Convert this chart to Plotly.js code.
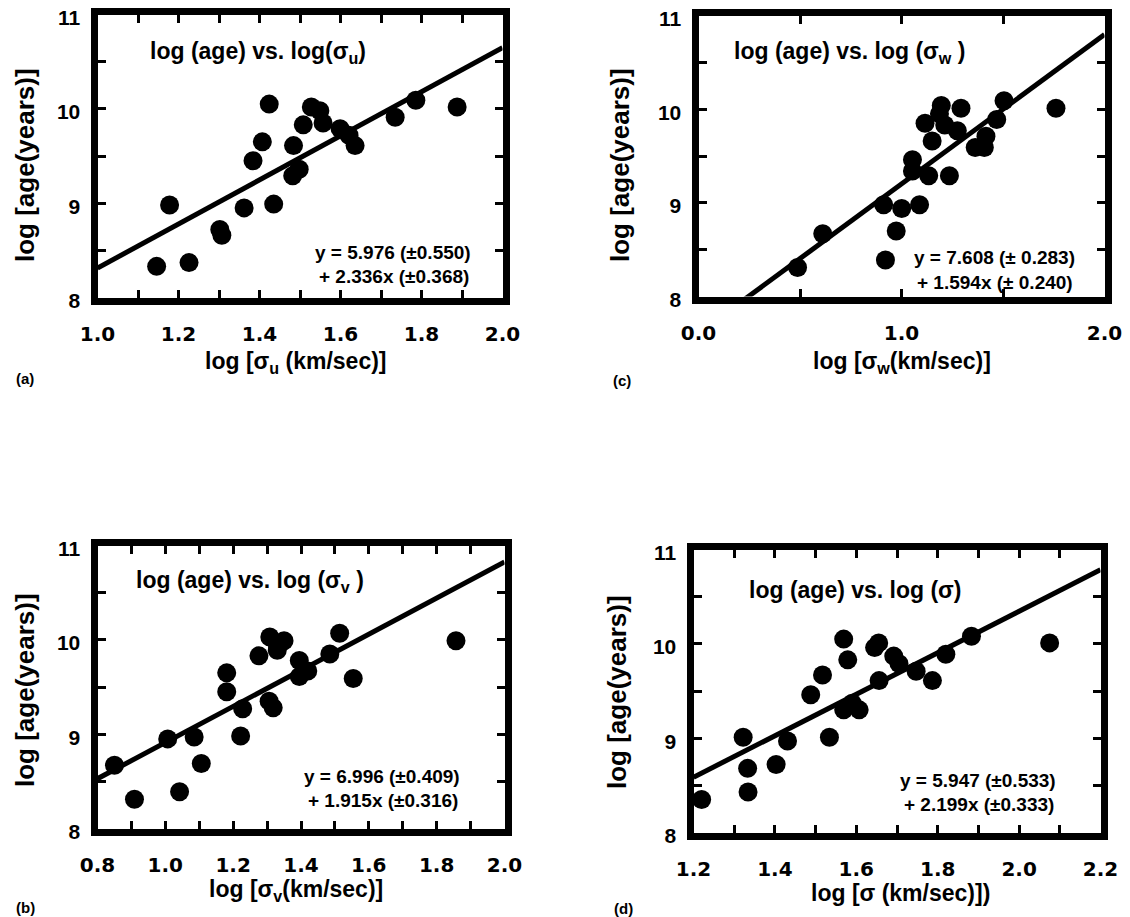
<!DOCTYPE html>
<html>
<head>
<meta charset="utf-8">
<script src="https://cdn.plot.ly/plotly-3.0.1.min.js"></script>
<style>html,body{margin:0;padding:0;background:#fff;}#chart{width:1130px;height:917px;}</style>
</head>
<body>
<div id="chart"></div>
<script>
// ---- data ----
const aX = [1.146,1.178,1.226,1.302,1.307,1.362,1.384,1.407,1.424,1.435,1.484,1.482,1.498,1.508,1.528,1.549,1.557,1.599,1.621,1.636,1.735,1.786,1.888];
const aY = [8.33,8.98,8.37,8.72,8.66,8.95,9.45,9.65,10.05,8.99,9.61,9.29,9.36,9.83,10.02,9.98,9.85,9.79,9.72,9.61,9.91,10.09,10.02];
const cX = [0.488,0.612,0.912,0.921,0.974,1.001,1.054,1.054,1.089,1.116,1.134,1.151,1.196,1.187,1.213,1.236,1.275,1.293,1.363,1.408,1.416,1.469,1.505,1.761];
const cY = [8.31,8.67,8.98,8.39,8.70,8.94,9.46,9.34,8.98,9.85,9.29,9.66,10.04,9.95,9.83,9.29,9.77,10.01,9.59,9.59,9.71,9.89,10.09,10.01];
const bX = [0.850,0.909,1.007,1.042,1.085,1.106,1.181,1.181,1.228,1.222,1.276,1.308,1.306,1.318,1.330,1.350,1.330,1.395,1.395,1.420,1.485,1.514,1.554,1.857];
const bY = [8.67,8.31,8.95,8.39,8.97,8.69,9.65,9.45,9.27,8.98,9.83,10.03,9.35,9.28,9.95,9.99,9.89,9.78,9.61,9.67,9.85,10.07,9.59,9.99];
const dX = [1.220,1.322,1.333,1.334,1.403,1.431,1.488,1.517,1.534,1.569,1.579,1.569,1.590,1.607,1.645,1.655,1.656,1.692,1.705,1.747,1.787,1.820,1.883,2.075];
const dY = [8.35,9.01,8.68,8.43,8.72,8.97,9.46,9.67,9.01,10.05,9.83,9.30,9.37,9.30,9.96,10.01,9.61,9.87,9.79,9.71,9.61,9.89,10.08,10.01];

const fitIntercepts = [5.976, 7.608, 6.996, 5.947];   // a, c, b, d
const fitSlopes     = [2.336, 1.594, 1.915, 2.199];

const xRanges = [[1.0,2.0],[0.0,2.0],[0.8,2.0],[1.2,2.2]];
const yRange = [8, 11];

const aTickVals = [1.0,1.2,1.4,1.6,1.8,2.0];
const aTickText = ['1.0','1.2','1.4','1.6','1.8','2.0'];
const cTickVals = [0.0,1.0,2.0];
const cTickText = ['0.0','1.0','2.0'];
const bTickVals = [0.8,1.0,1.2,1.4,1.6,1.8,2.0];
const bTickText = ['0.8','1.0','1.2','1.4','1.6','1.8','2.0'];
const dTickVals = [1.2,1.4,1.6,1.8,2.0,2.2];
const dTickText = ['1.2','1.4','1.6','1.8','2.0','2.2'];
const xMinorStep = [0.1, 0.5, 0.1, 0.1];
const yTickVals = [8,9,10,11];
const yTickText = ['8','9','10','11'];
const yMinorStep = 0.5;

const panelTitles = ['log (age) vs. log(σ<sub>u</sub>)','log (age) vs. log (σ<sub>w</sub> )','log (age) vs. log (σ<sub>v</sub> )','log (age) vs. log (σ)'];
const eqLine1 = ['y = 5.976 (±0.550)','y = 7.608 (± 0.283)','y = 6.996 (±0.409)','y = 5.947 (±0.533)'];
const eqLine2 = ['+ 2.336x (±0.368)','+ 1.594x (± 0.240)','+ 1.915x (±0.316)','+ 2.199x (±0.333)'];
const xTitles = ['log [σ<sub>u</sub> (km/sec)]','log [σ<sub>w</sub>(km/sec)]','log [σ<sub>v</sub>(km/sec)]','log [σ (km/sec)])'];
const yTitle = 'log [age(years)]';
const panelLetters = ['(a)','(c)','(b)','(d)'];

// ---- layout geometry (pixels) ----
const W = 1130, H = 917;
const px = v => v / W, py = v => 1 - v / H;
// inner plot boxes [left, right, top, bottom]
const boxes = [[97.5,502.5,14.5,297.5],[698.5,1104.5,15.5,296.5],[97.5,504.5,545.5,828.5],[693.5,1100.5,549.5,832.5]];

const BOLD = 'Liberation Sans';
const seriesX = [aX,cX,bX,dX], seriesY = [aY,cY,bY,dY];
const tickV = [aTickVals,cTickVals,bTickVals,dTickVals], tickT = [aTickText,cTickText,bTickText,dTickText];

const traces = [];
const layout = {
  width: W, height: H, margin: {l:0,r:0,t:0,b:0},
  paper_bgcolor: '#fff', plot_bgcolor: '#fff', showlegend: false,
  annotations: []
};

for (let i = 0; i < 4; i++) {
  const xa = i === 0 ? 'x' : 'x' + (i+1), ya = i === 0 ? 'y' : 'y' + (i+1);
  const xk = i === 0 ? 'xaxis' : 'xaxis' + (i+1), yk = i === 0 ? 'yaxis' : 'yaxis' + (i+1);
  const bx = boxes[i];
  const xr = xRanges[i];
  traces.push({x: xr, y: xr.map(v => fitIntercepts[i] + fitSlopes[i]*v), xaxis: xa, yaxis: ya,
    type: 'scatter', mode: 'lines', line: {color: '#000', width: 5}, hoverinfo: 'skip'});
  traces.push({x: seriesX[i], y: seriesY[i], xaxis: xa, yaxis: ya, type: 'scatter', mode: 'markers',
    marker: {color: '#000', size: 19, line: {width: 0}}, cliponaxis: true, hoverinfo: 'skip'});
  layout[xk] = {domain: [px(bx[0]), px(bx[1])], anchor: ya, range: xr, tickmode: 'array',
    tickvals: tickV[i], ticktext: tickT[i], ticks: 'inside', ticklen: 8, tickwidth: 3, tickcolor: '#000',
    minor: {tick0: xr[0], dtick: xMinorStep[i], ticks: 'inside', ticklen: 8, tickwidth: 3, tickcolor: '#000', showgrid: false},
    showline: true, linewidth: 7, linecolor: '#000', mirror: 'allticks', showgrid: false, zeroline: false,
    tickfont: {family: 'DejaVu Sans', size: 20, weight: 'bold', color: '#000'}, ticklabelstandoff: 12,
    ticklabeloverflow: 'allow'};
  layout[yk] = {domain: [py(bx[3]), py(bx[2])], anchor: xa, range: yRange, tickmode: 'array',
    tickvals: yTickVals, ticktext: yTickText, ticks: 'inside', ticklen: 8, tickwidth: 3, tickcolor: '#000',
    minor: {tick0: 8, dtick: yMinorStep, ticks: 'inside', ticklen: 8, tickwidth: 3, tickcolor: '#000', showgrid: false},
    showline: true, linewidth: 7, linecolor: '#000', mirror: 'allticks', showgrid: false, zeroline: false,
    tickfont: {family: BOLD, size: 21, weight: 'bold', color: '#000'}, ticklabelstandoff: 6, ticklabelshift: 3,
    ticklabeloverflow: 'allow'};
}

// text positions (pixels)
const titlePos = [[258,52],[850,52],[250,581],[855,590]];
const eqRight = [473,1077,462,1058];
const eqY1 = [252,258,776,780];
const xTitlePos = [[296,362],[902,362],[296,890],[900,893]];
const yTitlePos = [[25,165],[620,165],[25,690],[617,692]];
const letterPos = [[25,378],[622,380],[25,907],[623,908]];

for (let i = 0; i < 4; i++) {
  const A = layout.annotations;
  A.push({xref:'paper', yref:'paper', x: px(titlePos[i][0]), y: py(titlePos[i][1]), text: panelTitles[i],
    showarrow:false, xanchor:'center', yanchor:'middle', font:{family: BOLD, size: 23, weight:'bold', color:'#000'}});
  A.push({xref:'paper', yref:'paper', x: px(eqRight[i]), y: py(eqY1[i]), text: eqLine1[i],
    showarrow:false, xanchor:'right', yanchor:'middle', align:'right', font:{family: BOLD, size: 19, weight:'bold', color:'#000'}});
  A.push({xref:'paper', yref:'paper', x: px(eqRight[i]-2), y: py(eqY1[i]+24), text: eqLine2[i],
    showarrow:false, xanchor:'right', yanchor:'middle', align:'right', font:{family: BOLD, size: 19, weight:'bold', color:'#000'}});
  A.push({xref:'paper', yref:'paper', x: px(xTitlePos[i][0]), y: py(xTitlePos[i][1]), text: xTitles[i],
    showarrow:false, xanchor:'center', yanchor:'middle', font:{family: BOLD, size: 23, weight:'bold', color:'#000'}});
  A.push({xref:'paper', yref:'paper', x: px(yTitlePos[i][0]), y: py(yTitlePos[i][1]), text: yTitle, textangle: -90,
    showarrow:false, xanchor:'center', yanchor:'middle', font:{family: BOLD, size: 26, weight:'bold', color:'#000'}});
  A.push({xref:'paper', yref:'paper', x: px(letterPos[i][0]), y: py(letterPos[i][1]), text: panelLetters[i],
    showarrow:false, xanchor:'center', yanchor:'middle', font:{family: BOLD, size: 15, weight:'bold', color:'#000'}});
}

Plotly.newPlot('chart', traces, layout, {staticPlot: true, displayModeBar: false});
</script>
</body>
</html>
